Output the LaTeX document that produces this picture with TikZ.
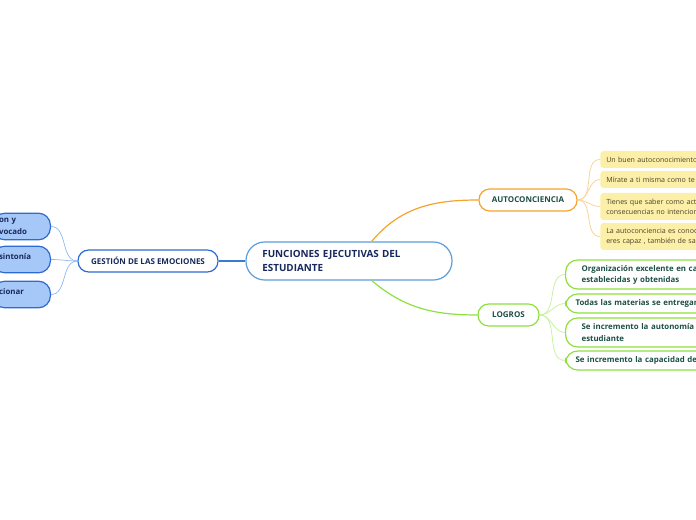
\documentclass[tikz,border=0pt]{standalone}
\usepackage{fontspec}
\setmainfont{Open Sans}
\usepackage{tikz}
\usetikzlibrary{positioning}
\definecolor{rootblue}{HTML}{5C9DDB}
\definecolor{deepblue}{HTML}{2C6BD3}
\definecolor{leafblue}{HTML}{A6C8F8}
\definecolor{navy}{HTML}{17295C}
\definecolor{brandorange}{HTML}{F6A32C}
\definecolor{paleorange}{HTML}{FAD29A}
\definecolor{leafyellow}{HTML}{FCEFA8}
\definecolor{olive}{HTML}{4B4128}
\definecolor{brandgreen}{HTML}{8EE03E}
\definecolor{palegreen}{HTML}{C8F29E}
\definecolor{teal}{HTML}{1D4F44}

\begin{document}
\begin{tikzpicture}[x=0.75pt, y=-0.75pt,
  rootbox/.style={draw=rootblue, line width=0.9pt, fill=white, rounded corners=14pt,
    minimum width=154.5pt, minimum height=28.5pt, text width=130pt, align=left,
    inner xsep=12pt, text=navy, font=\fontsize{7.4}{10.5}\selectfont\bfseries},
  mainbox/.style={fill=white, line width=0.9pt, rounded corners=8pt, minimum height=16.5pt,
    inner sep=0pt, font=\fontsize{6}{7}\selectfont\bfseries},
  bluebox/.style={draw=deepblue, line width=0.9pt, fill=leafblue, rounded corners=9pt,
    minimum height=20pt, text width=34pt, inner xsep=4.5pt, align=left, text=navy,
    font=\fontsize{5.9}{8.6}\selectfont\bfseries},
  yellowbox/.style={fill=leafyellow, rounded corners=2.5pt, text width=110pt, inner xsep=4.5pt,
    inner ysep=0pt, align=left, text=olive, font=\fontsize{5.3}{7.5}\selectfont},
  greenbox/.style={draw=brandgreen, line width=0.9pt, fill=white, rounded corners=9pt,
    text width=110pt, inner ysep=0pt, align=left, text=teal,
    font=\fontsize{5.9}{8.3}\selectfont\bfseries},
  bluelink/.style={draw=leafblue!80!deepblue, line width=0.5pt},
  orangelink/.style={draw=paleorange, line width=0.6pt},
  greenlink/.style={draw=palegreen, line width=0.6pt}]
\useasboundingbox (0,0) rectangle (696,520);
\clip (0,0) rectangle (696,520);
% —— 中心主题 ——
\node[rootbox] (root) at (349,261) {FUNCIONES EJECUTIVAS DEL\\ESTUDIANTE};
% —— 三个主分支 ——
\node[mainbox, draw=deepblue, text=navy, minimum width=105pt] (gestion) at (148,261) {GESTIÓN DE LAS EMOCIONES};
\node[mainbox, draw=brandorange, text=teal, minimum width=73.5pt] (auto) at (528,200) {AUTOCONCIENCIA};
\node[mainbox, draw=brandgreen, text=teal, minimum width=45.75pt] (logros) at (508.5,315) {LOGROS};
\draw[deepblue!70!rootblue, line width=0.9pt] (gestion) -- (root);
\draw[brandorange, line width=0.9pt] ([xshift=17pt]root.north) to[out=50, in=180] (auto.west);
\draw[brandgreen, line width=0.9pt] ([xshift=17pt]root.south) to[out=-40, in=180] (logros.west);
% —— 情绪管理的子项 ——
\node[bluebox, anchor=east] (g1) at (51,226.5) {on y\\vocado};
\node[bluebox, anchor=east] (g2) at (51,259.5) {sintonía\\[-4pt]\mbox{}};
\node[bluebox, anchor=east] (g3) at (51,294.5) {cionar\\[-4pt]\mbox{}};
\foreach \leaf in {g1,g2,g3}
  \draw[bluelink] (gestion.west) to[out=180, in=0] (\leaf.east);
% —— 自我意识的子项 ——
\node[yellowbox, anchor=west, minimum height=12.75pt] (a1) at (600,159.5) {Un buen autoconocimiento};
\node[yellowbox, anchor=west, minimum height=12.75pt] (a2) at (600,179.5) {Mírate a ti misma como te};
\node[yellowbox, anchor=west, minimum height=20.25pt] (a3) at (600,206.5) {Tienes que saber como actúas\\consecuencias no intencionadas};
\node[yellowbox, anchor=west, minimum height=20.25pt] (a4) at (600,236.5) {La autoconciencia es conocer\\eres capaz , también de saber};
\foreach \leaf in {a1,a2,a3,a4}
  \draw[orangelink] (auto.east) to[out=0, in=180] (\leaf.west);
% —— 成果的子项 ——
\node[greenbox, anchor=west, minimum height=21.75pt, inner xsep=12pt] (l1) at (565,274.5) {Organización excelente en cada\\establecidas y obtenidas};
\node[greenbox, anchor=west, minimum height=14.25pt, inner xsep=7.5pt] (l2) at (565,303.5) {Todas las materias se entregan};
\node[greenbox, anchor=west, minimum height=21.75pt, inner xsep=12pt] (l3) at (565,332.5) {Se incremento la autonomía del\\estudiante};
\node[greenbox, anchor=west, minimum height=14.25pt, inner xsep=7.5pt] (l4) at (565,360.5) {Se incremento la capacidad de};
\foreach \leaf in {l1,l2,l3,l4}
  \draw[greenlink] (logros.east) to[out=0, in=180] (\leaf.west);
\end{tikzpicture}
\end{document}
